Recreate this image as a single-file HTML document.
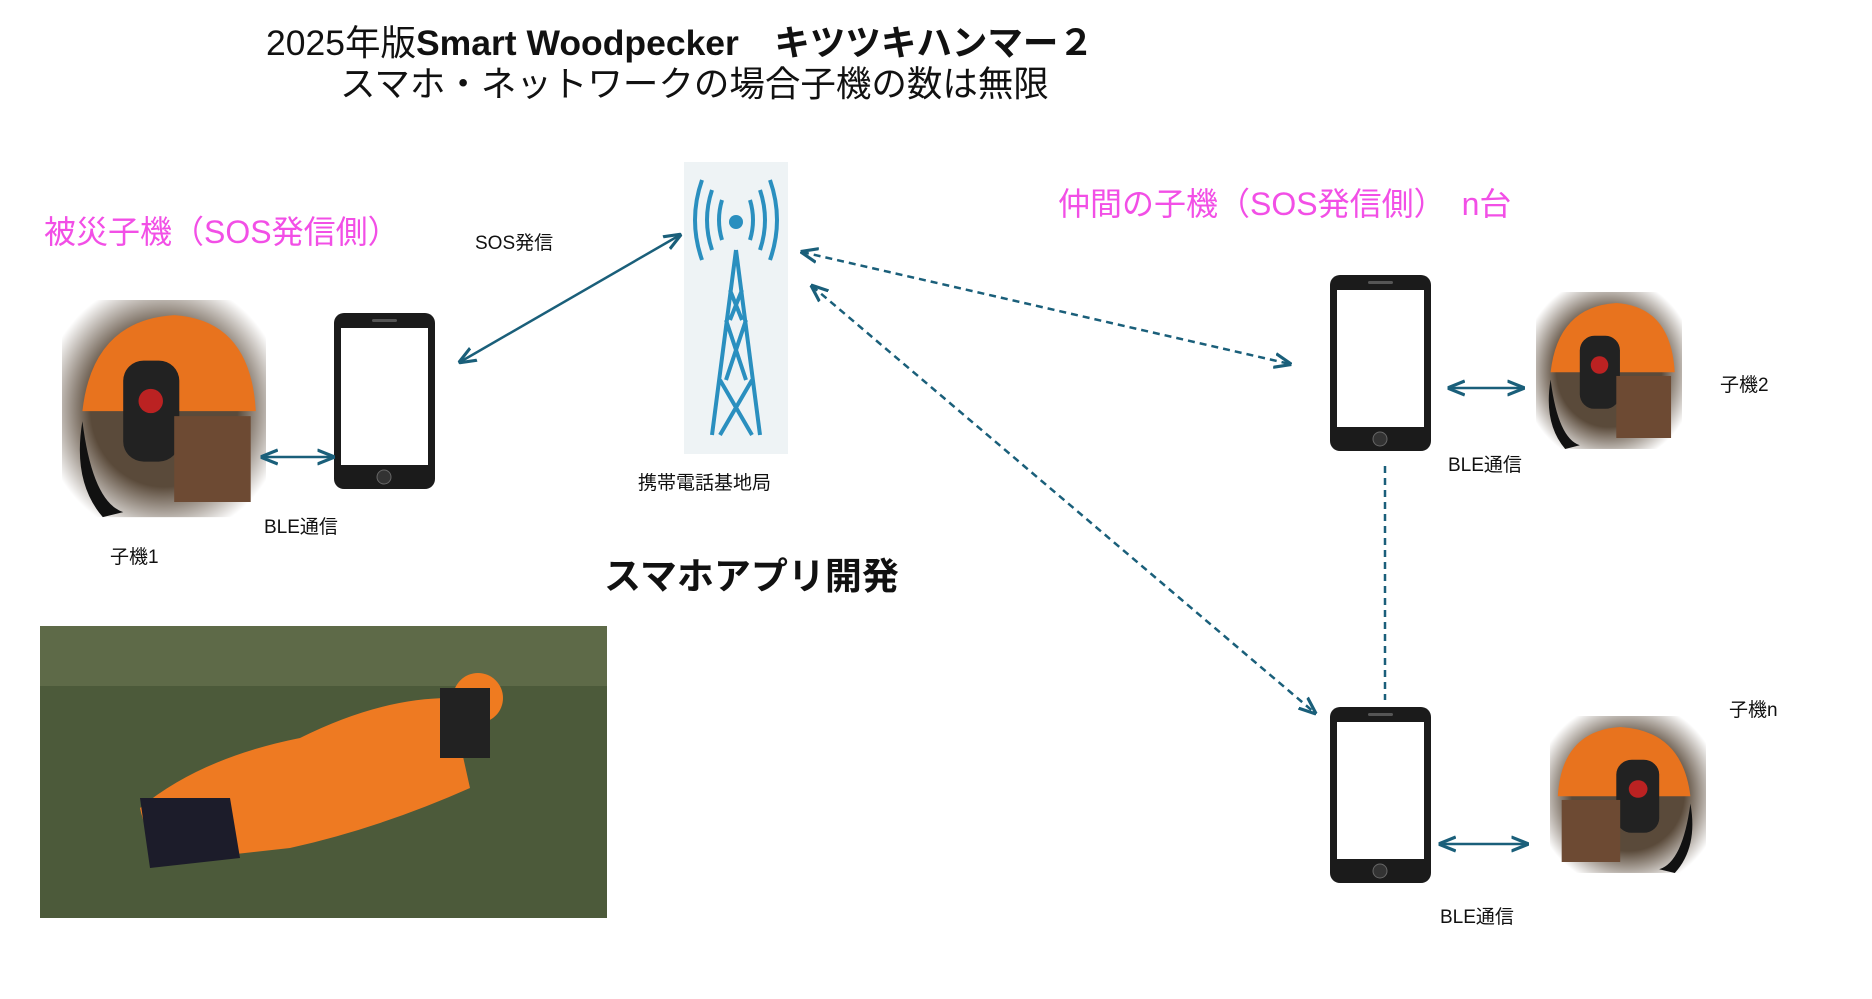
<!DOCTYPE html>
<html><head><meta charset="utf-8"><style>
body{margin:0;width:1872px;height:994px;background:#fff;overflow:hidden}
svg text{font-family:"Liberation Sans","Noto Sans CJK JP",sans-serif}
</style></head><body>
<svg width="1872" height="994" viewBox="0 0 1872 994" xmlns="http://www.w3.org/2000/svg">
<defs>
<marker id="a" viewBox="0 0 10 10" refX="9" refY="5" markerWidth="7" markerHeight="7" orient="auto-start-reverse"><path d="M0,1 L10,5 L0,9" fill="none" stroke="#1a5f7a" stroke-width="1.8"/></marker>
<radialGradient id="fade" cx="50%" cy="50%" r="60%"><stop offset="0.6" stop-color="#5a4a3a"/><stop offset="1" stop-color="#fff"/></radialGradient>
<g id="phone"><rect x="0" y="0" width="101" height="176" rx="10" fill="#1b1b1b"/><rect x="7" y="15" width="87" height="137" fill="#fff"/><rect x="38" y="6" width="25" height="3" rx="1.5" fill="#555"/><circle cx="50" cy="164" r="7" fill="#333" stroke="#666"/></g>
<g id="person"><rect x="0" y="0" width="200" height="215" fill="url(#fade)"/><path d="M20,110 Q30,20 110,15 Q185,20 190,110 Z" fill="#e8731e"/><rect x="60" y="60" width="55" height="100" rx="20" fill="#222"/><circle cx="87" cy="100" r="12" fill="#b22"/><rect x="110" y="115" width="75" height="85" fill="#6d4a33"/><path d="M20,120 Q30,200 60,210 L40,215 Q10,180 20,120Z" fill="#111"/></g>
</defs>
<text x="266" y="55" font-size="35.5" fill="#111">2025年版<tspan font-weight="bold">Smart Woodpecker　キツツキハンマー２</tspan></text>
<text x="340" y="96" font-size="35.5" fill="#111">スマホ・ネットワークの場合子機の数は無限</text>
<text x="44" y="243" font-size="32" fill="#f24fe6">被災子機（SOS発信側）</text>
<text x="1058" y="215" font-size="32" fill="#f24fe6">仲間の子機（SOS発信側）　n台</text>
<text x="475" y="249" font-size="19" fill="#111">SOS発信</text>
<text x="638" y="489" font-size="19" fill="#111">携帯電話基地局</text>
<text x="604" y="589" font-size="37" font-weight="bold" fill="#111">スマホアプリ開発</text>
<text x="264" y="533" font-size="19" fill="#111">BLE通信</text>
<text x="110" y="563" font-size="19" fill="#111">子機1</text>
<text x="1448" y="471" font-size="19" fill="#111">BLE通信</text>
<text x="1720" y="391" font-size="19" fill="#111">子機2</text>
<text x="1729" y="716" font-size="19" fill="#111">子機n</text>
<text x="1440" y="923" font-size="19" fill="#111">BLE通信</text>
<rect x="684" y="162" width="104" height="292" fill="#eef3f5"/>
<g stroke="#2a8fbf" stroke-width="4" fill="none">
<path d="M736,250 L712,435 M736,250 L760,435 M720,380 L752,435 M752,380 L720,435 M726,320 L746,380 M746,320 L726,380 M730,290 L742,320 M742,290 L730,320"/>
<path d="M722,200 Q716,220 722,240 M750,200 Q756,220 750,240 M712,190 Q702,220 712,250 M760,190 Q770,220 760,250 M702,180 Q688,220 702,260 M770,180 Q784,220 770,260"/>
</g>
<circle cx="736" cy="222" r="7" fill="#2a8fbf"/>
<use href="#person" transform="translate(62,300) scale(1.02,1.01)"/>
<use href="#person" transform="translate(1536,292) scale(0.73,0.73)"/>
<use href="#person" transform="translate(1706,716) scale(-0.78,0.73)"/>
<rect x="40" y="626" width="567" height="292" fill="#4c5a3a"/>
<rect x="40" y="626" width="567" height="60" fill="#5e6a48"/>
<path d="M140,808 Q200,758 300,738 Q380,698 450,698 L470,788 Q380,828 290,848 L200,858 Q150,858 140,808Z" fill="#ee7a22"/>
<path d="M140,798 L230,798 L240,858 L150,868Z" fill="#1c1c2a"/>
<circle cx="478" cy="698" r="25" fill="#ef7b20"/>
<rect x="440" y="688" width="50" height="70" fill="#222"/>
<use href="#phone" transform="translate(334,313)"/>
<use href="#phone" transform="translate(1330,275)"/>
<use href="#phone" transform="translate(1330,707)"/>
<g stroke="#1a5f7a" stroke-width="2.5" fill="none">
<line x1="262" y1="457" x2="333" y2="457" marker-start="url(#a)" marker-end="url(#a)"/>
<line x1="460" y1="362" x2="680" y2="235" marker-start="url(#a)" marker-end="url(#a)"/>
<line x1="1449" y1="388" x2="1523" y2="388" marker-start="url(#a)" marker-end="url(#a)"/>
<line x1="1440" y1="844" x2="1527" y2="844" marker-start="url(#a)" marker-end="url(#a)"/>
<g stroke-dasharray="7,5">
<line x1="802" y1="252" x2="1290" y2="364" marker-start="url(#a)" marker-end="url(#a)"/>
<line x1="812" y1="286" x2="1315" y2="713" marker-start="url(#a)" marker-end="url(#a)"/>
<line x1="1385" y1="466" x2="1385" y2="700"/>
</g>
</g>
</svg>
</body></html>
